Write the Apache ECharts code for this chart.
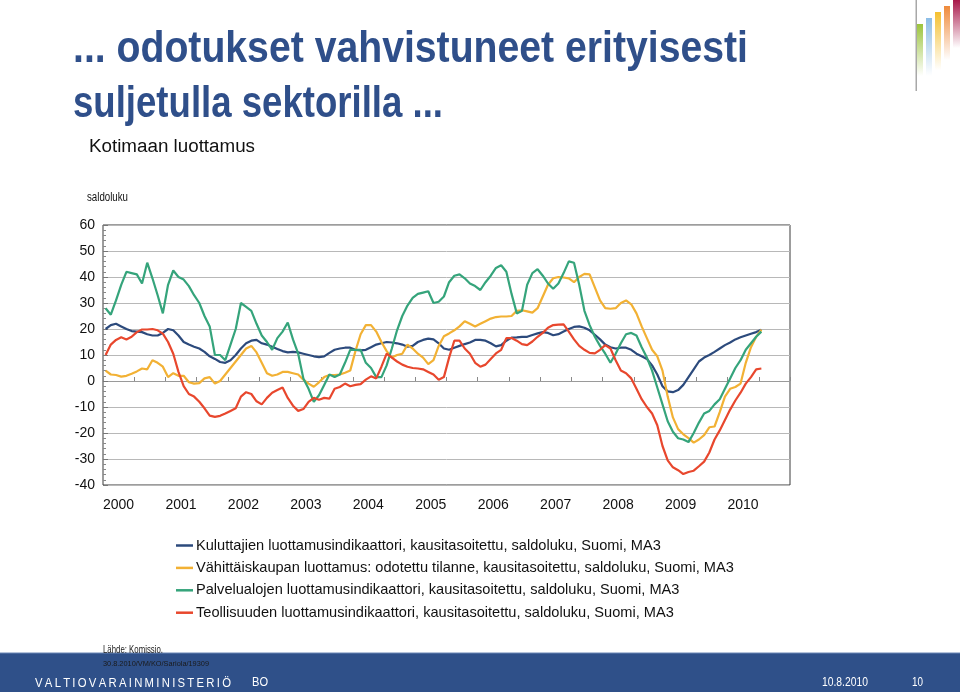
<!DOCTYPE html>
<html>
<head>
<meta charset="utf-8">
<script src="https://cdn.jsdelivr.net/npm/echarts@6/dist/echarts.min.js"></script>
<style>
html,body{margin:0;padding:0;background:#fff;}
#chart{width:960px;height:692px;}
</style>
</head>
<body>
<div id="chart"></div>
<script>
// ---------- DATA ----------
const years = ['2000','2001','2002','2003','2004','2005','2006','2007','2008','2009','2010'];
const yTickMin = -40, yTickMax = 60, yTickStep = 10;

const seriesNames = [
  'Kuluttajien luottamusindikaattori, kausitasoitettu, saldoluku, Suomi, MA3',
  'Vähittäiskaupan luottamus: odotettu tilanne, kausitasoitettu, saldoluku, Suomi, MA3',
  'Palvelualojen luottamusindikaattori, kausitasoitettu, saldoluku, Suomi, MA3',
  'Teollisuuden luottamusindikaattori, kausitasoitettu, saldoluku, Suomi, MA3'
];

// monthly values, Jan 2000 - Jul 2010
const consumer = [
  20,21.5,22,21,20,19.2,19,18.8,18,17.5,17.5,18.5,
  20,19.5,17.5,15,14,13.2,12.5,11.2,9.5,8.5,7.3,7,
  8,10,12.5,14.5,15.5,15.8,14.5,14,13.2,12.3,11.5,11,
  11.2,11,10.5,10,9.5,9.2,9.5,10.8,12,12.5,12.8,12.8,
  12,11.8,12,13,14,14.5,15,14.8,14.5,14,13.2,13.5,
  15,15.8,16.3,16,14.5,12.5,12,12.8,13.5,14.2,14.8,15.8,
  15.8,15.5,14.5,13.3,13.8,15.5,16.7,16.8,17,17,17.7,18.3,
  18.8,18.5,17.6,18,19,20,20.8,21,20.5,19.5,17.8,16,
  14,13,12.5,12.8,12.8,12,10.5,9.5,8.5,6,2.5,-2,
  -4,-4.3,-3.5,-1.5,1.5,4.5,7.5,9,10,11.2,12.5,13.8,
  14.8,16,16.8,17.5,18.2,18.8,19.7
];
const retail = [
  4,2.5,2.3,1.7,2,2.8,3.7,4.8,4.5,8,7,5.5,
  1.5,3,2,2,-0.5,-1,-0.8,1,1.5,-1,0,2.5,
  5,7.5,10,12.5,13.5,11,7,3,2,2.5,3.5,3.5,
  3,2.5,0.5,-1,-2.2,-0.5,1.5,2.3,2.3,2.5,3.2,4,
  11.5,18,21.5,21.5,19,15,11.5,9,10,10.5,14,12.5,
  10.5,9,6.5,8,13.5,17.2,18.3,19.5,21,23,22,21,
  22,23,24,24.6,24.8,24.8,25,27,27.2,26.8,26.3,28,
  32.5,37,39.5,40,39.8,39.5,38,40,41.2,41,36,31,
  28,27.8,28,30,31,29.5,26,21,16.5,12,9.5,4,
  -6,-14,-18.5,-20.5,-22,-23.7,-22.5,-20.8,-17.8,-17.5,-12,-6,
  -3,-2.3,-1,7,13,17,19.7
];
const services = [
  28,25.5,31,37,42,41.5,41,37.5,45.5,39.5,33,26,
  37,42.5,40,39,36.5,33,30,25,21,10,10,8,
  14,20,30,28.5,27,22,17.5,15,12,16.5,19,22.5,
  16,10.5,1,-3,-8,-5.5,-1.5,2.5,1.5,2.5,7,12,
  12,12,7,5,1.5,1.5,6,12.5,19.5,25,29,32,
  33.5,34,34.5,30,30.5,32.5,38,40.5,41,39.5,37.5,36.5,
  35,38,40.5,43.5,44.5,42,33.5,26,27,37,41.5,43,
  40.5,37.5,35.5,37.5,41.5,46,45.5,37,27,21.5,17,13.5,
  10.5,7,10.5,14.5,18,18.5,17.5,13,9,4,-2.5,-9,
  -15.5,-19.5,-22,-22.5,-23.5,-20,-16,-12.5,-11.5,-9,-7,-3,
  1,5,8,12,14.5,17,19
];
const industry = [
  10,14,15.8,16.8,16,17,18.8,19.8,19.8,20,19.5,18.2,
  15,10.5,3.5,-2,-5,-6,-8,-10.5,-13.3,-13.8,-13.4,-12.5,
  -11.5,-10.5,-6,-4.3,-5,-7.8,-9,-6.5,-4.5,-3.5,-2.5,-6.5,
  -9.5,-11.5,-10.8,-8,-6.5,-7.2,-6.5,-6.8,-3,-2.3,-1,-2,
  -1.5,-1.2,0.5,1.8,1,5.5,10.5,9,7.5,6.3,5.5,5,
  4.8,4.5,3.5,2.5,0.5,1.5,9,15.5,15.5,12.5,10.5,7,
  5.5,6.3,8.5,10.6,12,16.5,16.5,15.5,14.2,13.8,15.2,17,
  18.5,20.5,21.5,21.7,21.8,19,16,13.5,12,10.8,10.6,12,
  13.8,12.5,8,4,3,1,-3,-7,-10,-12.5,-17,-25,
  -30.5,-33.2,-34.3,-35.8,-35,-34.5,-32.8,-31,-27.5,-22.5,-19,-15,
  -11,-7.5,-4.5,-1,1.5,4.5,4.8
];

const seriesColors = ['#2c4a7c', '#f2b134', '#35a47b', '#e8472d'];

// month categories built from the year labels
const months = [];
years.forEach(y => { for (let m = 1; m <= 12; m++) months.push(y + '-' + (m < 10 ? '0' : '') + m); });

// ---------- helpers ----------
const measureCtx = document.createElement('canvas').getContext('2d');
function fitScale(text, font, target) {
  measureCtx.font = font;
  const w = measureCtx.measureText(text).width;
  return w > 0 ? target / w : 1;
}
function fitText(text, font, x, y, target, fill, extra) {
  return Object.assign({
    type: 'text', x: x, y: y, scaleX: fitScale(text, font, target), scaleY: 1,
    style: { text: text, font: font, fill: fill, textAlign: 'left', textVerticalAlign: 'middle' },
    z: 10
  }, extra || {});
}

const titleFont = 'bold 45px "Liberation Sans", Arial, sans-serif';
const ministry = 'VALTIOVARAINMINISTERIÖ'.split('').join('\u2009');

const chart = echarts.init(document.getElementById('chart'), null, { renderer: 'canvas' });

const dataSets = [consumer, retail, services, industry];

const option = {
  animation: false,
  backgroundColor: '#ffffff',
  textStyle: { fontFamily: '"Liberation Sans", Arial, sans-serif' },
  grid: {
    left: 103, top: 225, width: 687, height: 260,
    show: true, borderColor: '#3a3a3a', borderWidth: 1, backgroundColor: 'transparent'
  },
  legend: {
    orient: 'vertical', left: 176, top: 537.5, padding: 0,
    icon: 'rect', itemWidth: 17, itemHeight: 2.5, itemGap: 6.4,
    textStyle: { fontSize: 14.6, color: '#111', lineHeight: 16, padding: [0, 0, 0, -2] },
    data: seriesNames
  },
  xAxis: [
    {
      type: 'category', data: months, boundaryGap: true, position: 'bottom',
      axisLine: { show: false, onZero: false },
      axisTick: { show: false },
      splitLine: { show: false },
      axisLabel: {
        interval: (i) => i % 12 === 2,
        formatter: (v) => v.slice(0, 4),
        fontSize: 14, color: '#111', margin: 13, padding: [0, 0, 0, 5]
      }
    },
    {
      type: 'category', data: months, boundaryGap: true, position: 'bottom',
      axisLine: { show: true, onZero: true, lineStyle: { color: '#9a9a9a', width: 1 } },
      axisTick: { show: true, inside: true, length: 4, interval: (i) => i % 6 === 0, lineStyle: { color: '#8a8a8a' } },
      axisLabel: { show: false },
      splitLine: { show: false }
    }
  ],
  yAxis: {
    type: 'value', min: yTickMin, max: yTickMax, interval: yTickStep,
    axisLine: { show: false },
    axisTick: { show: true, inside: true, length: 5, lineStyle: { color: '#777' } },
    minorTick: { show: true, splitNumber: 5, length: 3, lineStyle: { color: '#888' } },
    splitLine: { show: true, lineStyle: { color: '#b8b8b8', width: 1 } },
    axisLabel: { fontSize: 14, color: '#111', margin: 8 }
  },
  series: dataSets.map((d, i) => ({
    name: seriesNames[i], type: 'line', data: d, xAxisIndex: 0, yAxisIndex: 0,
    showSymbol: false, symbol: 'none', smooth: false,
    lineStyle: { color: seriesColors[i], width: 2.2 },
    itemStyle: { color: seriesColors[i] },
    z: 3 + i
  })),
  graphic: [
    fitText('... odotukset vahvistuneet erityisesti', titleFont, 73, 50, 675, '#2f4f8a'),
    fitText('suljetulla sektorilla ...', titleFont, 73, 105, 370, '#2f4f8a'),
    fitText('Kotimaan luottamus', '18px "Liberation Sans", Arial, sans-serif', 89, 147, 166, '#111'),
    fitText('saldoluku', '12.5px "Liberation Sans", Arial, sans-serif', 87, 198, 41, '#111'),
    // footer
    { type: 'rect', shape: { x: 0, y: 653, width: 960, height: 39 }, style: { fill: '#2f5089' }, z: 1 },
    { type: 'rect', shape: { x: 0, y: 652.5, width: 960, height: 1 }, style: { fill: '#6b86b5' }, z: 1 },
    fitText('Lähde: Komissio.', '10px "Liberation Sans", Arial, sans-serif', 103, 650, 60, '#1a1a1a'),
    fitText('30.8.2010/VM/KO/Sariola/19309', '7px "Liberation Sans", Arial, sans-serif', 103, 664, 106, '#1a1a1a'),
    fitText(ministry, '13px "Liberation Sans", Arial, sans-serif', 35, 683, 196, '#ffffff'),
    fitText('BO', '12px "Liberation Sans", Arial, sans-serif', 252, 683, 16, '#ffffff'),
    fitText('10.8.2010', '12px "Liberation Sans", Arial, sans-serif', 822, 683, 46, '#ffffff'),
    fitText('10', '12px "Liberation Sans", Arial, sans-serif', 912, 683, 11, '#ffffff'),
    // logo
    { type: 'rect', shape: { x: 915.5, y: 0, width: 1.5, height: 91 }, style: { fill: '#a8a8a8' }, z: 2 },
    { type: 'rect', shape: { x: 917, y: 24, width: 6, height: 52 },
      style: { fill: new echarts.graphic.LinearGradient(0, 0, 0, 1, [{ offset: 0, color: '#9cc43c' }, { offset: 1, color: 'rgba(156,196,60,0)' }]) }, z: 2 },
    { type: 'rect', shape: { x: 926, y: 18, width: 6, height: 58 },
      style: { fill: new echarts.graphic.LinearGradient(0, 0, 0, 1, [{ offset: 0, color: '#8cbde6' }, { offset: 1, color: 'rgba(140,189,230,0)' }]) }, z: 2 },
    { type: 'rect', shape: { x: 935, y: 12, width: 6, height: 58 },
      style: { fill: new echarts.graphic.LinearGradient(0, 0, 0, 1, [{ offset: 0, color: '#f5c030' }, { offset: 1, color: 'rgba(245,192,48,0)' }]) }, z: 2 },
    { type: 'rect', shape: { x: 944, y: 6, width: 6, height: 54 },
      style: { fill: new echarts.graphic.LinearGradient(0, 0, 0, 1, [{ offset: 0, color: '#ef8a3a' }, { offset: 1, color: 'rgba(239,138,58,0)' }]) }, z: 2 },
    { type: 'rect', shape: { x: 953, y: 0, width: 7, height: 48 },
      style: { fill: new echarts.graphic.LinearGradient(0, 0, 0, 1, [{ offset: 0, color: '#a8174a' }, { offset: 1, color: 'rgba(168,23,74,0)' }]) }, z: 2 }
  ]
};

chart.setOption(option);
</script>
</body>
</html>
